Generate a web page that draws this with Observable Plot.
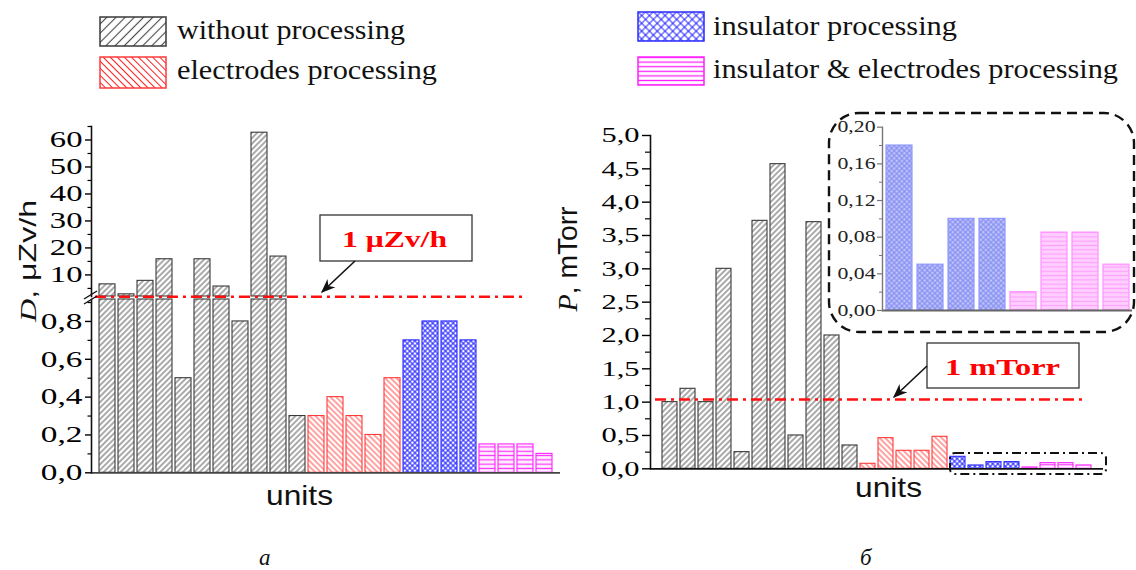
<!DOCTYPE html>
<html><head><meta charset="utf-8">
<script src="https://cdn.jsdelivr.net/npm/d3@7"></script>
<script src="https://cdn.jsdelivr.net/npm/@observablehq/plot@0.6"></script>
<style>
body{margin:0;background:#fff}
#root{position:relative;width:1136px;height:570px;overflow:hidden;background:#fff}
#root > svg{position:absolute;margin:0}
</style></head><body><div id="root"></div>
<script>
// ---------- data ----------
const groups = ["without processing", "electrodes processing", "insulator processing", "insulator & electrodes processing"];
// panel а : dose rate D, μZv/h
const dWithout    = [6.5, 2.8, 7.8, 15.8, 0.5, 15.8, 5.7, 0.8, 62.7, 16.8, 0.3];
const dElectrodes = [0.3, 0.4, 0.3, 0.2, 0.5];
const dInsulator  = [0.7, 0.8, 0.8, 0.7];
const dBoth       = [0.15, 0.15, 0.15, 0.1];
// panel б : pressure P, mTorr
const pWithout    = [1.0, 1.2, 1.0, 3.0, 0.25, 3.72, 4.57, 0.5, 3.7, 2.0, 0.35];
const pElectrodes = [0.075, 0.46, 0.27, 0.27, 0.48];
const pInsulator  = [0.18, 0.05, 0.10, 0.10];
const pBoth       = [0.02, 0.085, 0.085, 0.05];
// limit lines (as drawn)
const limitD = 1.9;     // on upper (broken) scale
const limitP = 1.04;
const limitLabels = ["1 μZv/h", "1 mTorr"];
// tick labels
const leftUpperTicks = [10, 20, 30, 40, 50, 60];
const leftLowerTicks = [0, 0.2, 0.4, 0.6, 0.8];
const rightTicks = [0, 0.5, 1, 1.5, 2, 2.5, 3, 3.5, 4, 4.5, 5];
const insetTicks = [0, 0.04, 0.08, 0.12, 0.16, 0.2];
const leftUpperMinor = [5, 15, 25, 35, 45, 55, 65];
const leftLowerMinor = [0.1, 0.3, 0.5, 0.7, 0.9];
const rightMinor = [0.25, 0.75, 1.25, 1.75, 2.25, 2.75, 3.25, 3.75, 4.25, 4.75];
const insetMinor = [0.02, 0.06, 0.1, 0.14, 0.18];
const axisTitles = {d: ["D", ", μZv/h"], p: ["P", ", mTorr"], x: "units"};
const panelCaptions = ["а", "б"];

// scale breaks for panel а
const upperMin = 2, upperMax = 65, lowerMax = 0.916;

// ---------- table ----------
const dSeries = [dWithout, dElectrodes, dInsulator, dBoth];
const pSeries = [pWithout, pElectrodes, pInsulator, pBoth];
const rows = [];
groups.forEach((g, gi) => dSeries[gi].forEach((v, j) => rows.push({unit: rows.length, group: g, d: v, p: pSeries[gi][j]})));
const insetRows = rows.filter(r => r.group === groups[2] || r.group === groups[3]).map((r, i) => ({...r, unit: i}));

const root = document.getElementById("root");

// ---------- patterns (overlay svg defs) ----------
const overlay = d3.create("svg").attr("width", 1136).attr("height", 570)
  .style("left", "0px").style("top", "0px").style("pointer-events", "none");
const defs = overlay.append("defs");
function addPattern(id, {size, rotate = 0, color, width = 1, bg = "#fff", cross = false, horizontal = false}) {
  const p = defs.append("pattern").attr("id", id).attr("patternUnits", "userSpaceOnUse")
    .attr("width", size).attr("height", size);
  if (rotate) p.attr("patternTransform", `rotate(${rotate})`);
  p.append("rect").attr("width", size).attr("height", size).attr("fill", bg);
  if (horizontal || cross) p.append("line").attr("x1", 0).attr("x2", size).attr("y1", size / 2).attr("y2", size / 2)
    .attr("stroke", color).attr("stroke-width", width);
  if (!horizontal) p.append("line").attr("x1", size / 2).attr("x2", size / 2).attr("y1", 0).attr("y2", size)
    .attr("stroke", color).attr("stroke-width", width);
}
addPattern("pat-gray", {size: 4, rotate: 45, color: "#555", width: 1});
addPattern("pat-red", {size: 4, rotate: -45, color: "#ff3030", width: 0.9});
addPattern("pat-blue", {size: 3.6, rotate: 45, color: "#1a1aff", width: 1, cross: true});
addPattern("pat-mag", {size: 4.3, color: "#ff30ff", width: 1.2, horizontal: true, bg: "#fff0ff"});
addPattern("pat-blue-l", {size: 3.6, rotate: 45, color: "#8088f0", width: 1, cross: true, bg: "#c0c4fa"});
addPattern("pat-mag-l", {size: 4.3, color: "#ffa0ff", width: 1.2, horizontal: true, bg: "#ffd0ff"});
addPattern("leg-gray", {size: 6.5, rotate: 45, color: "#444", width: 1.1});
addPattern("leg-red", {size: 5, rotate: -45, color: "#ff2020", width: 1});
addPattern("leg-blue", {size: 5.5, rotate: 45, color: "#1010ff", width: 0.9, cross: true});
addPattern("leg-mag", {size: 4.6, color: "#ff20ff", width: 1.3, horizontal: true});

const groupStyle = {
  [groups[0]]: {fill: "url(#pat-gray)", stroke: "#3a3a3a", leg: "url(#leg-gray)"},
  [groups[1]]: {fill: "url(#pat-red)", stroke: "#ff3a3a", leg: "url(#leg-red)"},
  [groups[2]]: {fill: "url(#pat-blue)", stroke: "#2a2aff", leg: "url(#leg-blue)"},
  [groups[3]]: {fill: "url(#pat-mag)", stroke: "#ff20ff", leg: "url(#leg-mag)"}
};

// ---------- helpers ----------
const comma = f => v => d3.format(f)(v).replace(".", ",");
function style(fs) {
  return {background: "transparent", overflow: "visible", fontFamily: "'Liberation Serif', 'Times New Roman', serif",
          fontSize: fs + "px", color: "#000"};
}
function place(svg, left, top) {
  svg.style.position = "absolute"; svg.style.left = left + "px"; svg.style.top = top + "px";
  root.appendChild(svg);
}
function stretchTicks(svg, sx) {
  svg.querySelectorAll('g[aria-label="y-axis tick label"] text').forEach(t => {
    let tr = t.getAttribute("transform") || "";
    const x = +(t.getAttribute("x") || 0);
    if (x) { tr += ` translate(${x},0)`; t.setAttribute("x", 0); }
    t.setAttribute("transform", tr + ` scale(${sx},1)`);
  });
}
function bars(data, opts) {
  return groups.map(g => Plot.barY(data.filter(d => d.group === g), {
    x: "unit", fill: groupStyle[g].fill, stroke: groupStyle[g].stroke, strokeWidth: 1.1, ...opts
  }));
}
const xBand = n => ({type: "band", domain: d3.range(n), paddingInner: 0.16, paddingOuter: 0.12, axis: null});
const dashDot = "11,5,3,5";

// ---------- panel а, upper segment ----------
const upper = Plot.plot({
  width: 580, height: 200, marginLeft: 91, marginRight: 20, marginTop: 16, marginBottom: 14,
  style: style(23),
  x: xBand(rows.length),
  y: {domain: [upperMin, upperMax], label: null},
  marks: [
    ...bars(rows.filter(d => d.d > upperMin), {y1: d => upperMin, y2: d => d.d}),
    Plot.ruleY([limitD], {stroke: "#ff1010", strokeWidth: 2.4, strokeDasharray: dashDot, insetLeft: 4, insetRight: 35}),
    Plot.frame({anchor: "left", strokeWidth: 1.6, stroke: "#111"}),
    Plot.axisY(leftUpperTicks, {tickSize: 6, tickPadding: 3, strokeWidth: 1.4, label: null, tickFormat: d => String(d)}),
    Plot.axisY(leftUpperMinor, {tickSize: 3.5, strokeWidth: 1.2, label: null, tickFormat: () => ""})
  ]
});
stretchTicks(upper, 1.42);
place(upper, 0, 110);

// ---------- panel а, lower segment ----------
const lower = Plot.plot({
  width: 580, height: 200, marginLeft: 91, marginRight: 20, marginTop: 9, marginBottom: 17.7,
  style: style(23),
  x: xBand(rows.length),
  y: {domain: [0, lowerMax], label: null},
  marks: [
    ...bars(rows, {y: d => Math.min(d.d, lowerMax)}),
    Plot.ruleY([0], {stroke: "#444", strokeWidth: 1.8}),
    Plot.frame({anchor: "left", strokeWidth: 1.6, stroke: "#111"}),
    Plot.axisY(leftLowerTicks, {tickSize: 6, tickPadding: 3, strokeWidth: 1.4, label: null, tickFormat: comma(".1f")}),
    Plot.axisY(leftLowerMinor, {tickSize: 3.5, strokeWidth: 1.2, label: null, tickFormat: () => ""})
  ]
});
stretchTicks(lower, 1.45);
place(lower, 0, 290);

// ---------- panel б ----------
const right = Plot.plot({
  width: 576, height: 400, marginLeft: 90, marginRight: 33, marginTop: 25, marginBottom: 41.7,
  style: style(21),
  x: xBand(rows.length),
  y: {domain: [0, 5], label: null},
  marks: [
    ...bars(rows, {y: "p"}),
    Plot.ruleY([limitP], {stroke: "#ff1010", strokeWidth: 2.4, strokeDasharray: dashDot, insetLeft: 5, insetRight: 18}),
    Plot.ruleY([0], {stroke: "#111", strokeWidth: 1.8}),
    Plot.frame({anchor: "left", strokeWidth: 1.6, stroke: "#111"}),
    Plot.axisY(rightTicks, {tickSize: 8, tickPadding: 3, strokeWidth: 1.4, label: null, tickFormat: comma(".1f")}),
    Plot.axisY(rightMinor, {tickSize: 5, strokeWidth: 1.2, label: null, tickFormat: () => ""})
  ]
});
stretchTicks(right, 1.45);
place(right, 560, 110);

// ---------- inset ----------
const insetStyle = {[groups[2]]: {fill: "url(#pat-blue-l)", stroke: "#9098ff"}, [groups[3]]: {fill: "url(#pat-mag-l)", stroke: "#ff90ff"}};
const inset = Plot.plot({
  width: 336, height: 220, marginLeft: 82, marginRight: 4, marginTop: 16.7, marginBottom: 20,
  style: style(16),
  x: {type: "band", domain: d3.range(insetRows.length), paddingInner: 0.165, paddingOuter: 0.1, axis: null},
  y: {domain: [0, 0.2], label: null},
  marks: [
    ...[groups[2], groups[3]].map(g => Plot.barY(insetRows.filter(d => d.group === g),
      {x: "unit", y: "p", fill: insetStyle[g].fill, stroke: insetStyle[g].stroke, strokeWidth: 1.2})),
    Plot.ruleY([0], {stroke: "#666", strokeWidth: 1.8}),
    Plot.frame({anchor: "left", strokeWidth: 1.4, stroke: "#777"}),
    Plot.axisY(insetTicks, {tickSize: 5, tickPadding: 2, stroke: "#777", strokeWidth: 1.2, fill: "#222", label: null, tickFormat: comma(".2f")}),
    Plot.axisY(insetMinor, {tickSize: 3, stroke: "#777", strokeWidth: 1, label: null, tickFormat: () => ""})
  ]
});
stretchTicks(inset, 1.36);
place(inset, 800, 110);

// ---------- overlay: legend, annotations, titles ----------
const serif = "'Liberation Serif', 'Times New Roman', serif";
const sans = "'Liberation Sans', Arial, sans-serif";
const legendItems = [
  {g: groups[0], sx: 100, sy: 17, sw: 66, sh: 29, tx: 177, ty: 38.5, tl: 228},
  {g: groups[1], sx: 100, sy: 57, sw: 66, sh: 31, tx: 177, ty: 79, tl: 260},
  {g: groups[2], sx: 638, sy: 12, sw: 66, sh: 29, tx: 713, ty: 35, tl: 244},
  {g: groups[3], sx: 638, sy: 57, sw: 66, sh: 28, tx: 713, ty: 78, tl: 405}
];
legendItems.forEach(it => {
  overlay.append("rect").attr("x", it.sx).attr("y", it.sy).attr("width", it.sw).attr("height", it.sh)
    .attr("fill", groupStyle[it.g].leg).attr("stroke", groupStyle[it.g].stroke).attr("stroke-width", 1.5);
  overlay.append("text").attr("x", it.tx).attr("y", it.ty).attr("font-family", serif).attr("font-size", 27)
    .attr("textLength", it.tl).attr("lengthAdjust", "spacingAndGlyphs").attr("fill", "#111").text(it.g);
});

// arrow marker
defs.append("marker").attr("id", "arr").attr("viewBox", "0 0 10 10").attr("refX", 9).attr("refY", 5)
  .attr("markerWidth", 9).attr("markerHeight", 9).attr("orient", "auto-start-reverse")
  .append("path").attr("d", "M0,1 L10,5 L0,9 L3,5 Z").attr("fill", "#111");

// annotation boxes
const notes = [
  {box: [320, 215, 152, 46], tx: 342, ty: 247, tl: 105, line: [355, 261, 322, 292], label: limitLabels[0]},
  {box: [927, 343, 152, 45], tx: 945, ty: 375, tl: 115, line: [927, 366, 894, 397], label: limitLabels[1]}
];
notes.forEach(n => {
  overlay.append("rect").attr("x", n.box[0]).attr("y", n.box[1]).attr("width", n.box[2]).attr("height", n.box[3])
    .attr("fill", "#fff").attr("stroke", "#333").attr("stroke-width", 1.3);
  overlay.append("text").attr("x", n.tx).attr("y", n.ty).attr("font-family", serif).attr("font-weight", "bold")
    .attr("font-size", 23).attr("fill", "#ff0000").attr("textLength", n.tl).attr("lengthAdjust", "spacingAndGlyphs").text(n.label);
  overlay.append("line").attr("x1", n.line[0]).attr("y1", n.line[1]).attr("x2", n.line[2]).attr("y2", n.line[3])
    .attr("stroke", "#111").attr("stroke-width", 1.6).attr("marker-end", "url(#arr)");
});

// inset dashed rounded border and dash-dot highlight box
overlay.append("rect").attr("x", 829).attr("y", 113).attr("width", 305).attr("height", 219).attr("rx", 30)
  .attr("fill", "none").attr("stroke", "#111").attr("stroke-width", 2.4).attr("stroke-dasharray", "10,6");
overlay.append("rect").attr("x", 950).attr("y", 453).attr("width", 156).attr("height", 21).attr("rx", 5)
  .attr("fill", "none").attr("stroke", "#111").attr("stroke-width", 2).attr("stroke-dasharray", "9,4,2,4");

// axis break marks
overlay.append("path").attr("d", "M84,299 L97,291 M84,304 L97,296").attr("stroke", "#111").attr("stroke-width", 1.4).attr("fill", "none");

// y titles
function yTitle(x, y, parts, fs, tl) {
  const t = overlay.append("text").attr("transform", `translate(${x},${y}) rotate(-90)`).attr("text-anchor", "middle")
    .attr("font-size", fs).attr("fill", "#111").attr("textLength", tl).attr("lengthAdjust", "spacingAndGlyphs");
  t.append("tspan").attr("font-family", serif).attr("font-style", "italic").text(parts[0]);
  t.append("tspan").attr("font-family", sans).text(parts[1]);
}
yTitle(36, 261, axisTitles.d, 24, 122);
yTitle(577, 259, axisTitles.p, 28, 105);

// x titles
[[266, 505], [855, 497]].forEach(([x, y]) => overlay.append("text").attr("x", x).attr("y", y).attr("font-family", sans)
  .attr("font-size", 28).attr("fill", "#111").attr("textLength", 67).attr("lengthAdjust", "spacingAndGlyphs").text(axisTitles.x));

// panel captions
[[259, 565, panelCaptions[0]], [860, 565, panelCaptions[1]]].forEach(([x, y, s]) => overlay.append("text").attr("x", x).attr("y", y)
  .attr("font-family", serif).attr("font-style", "italic").attr("font-size", 23).attr("fill", "#111").text(s));

root.appendChild(overlay.node());
</script></body></html>
